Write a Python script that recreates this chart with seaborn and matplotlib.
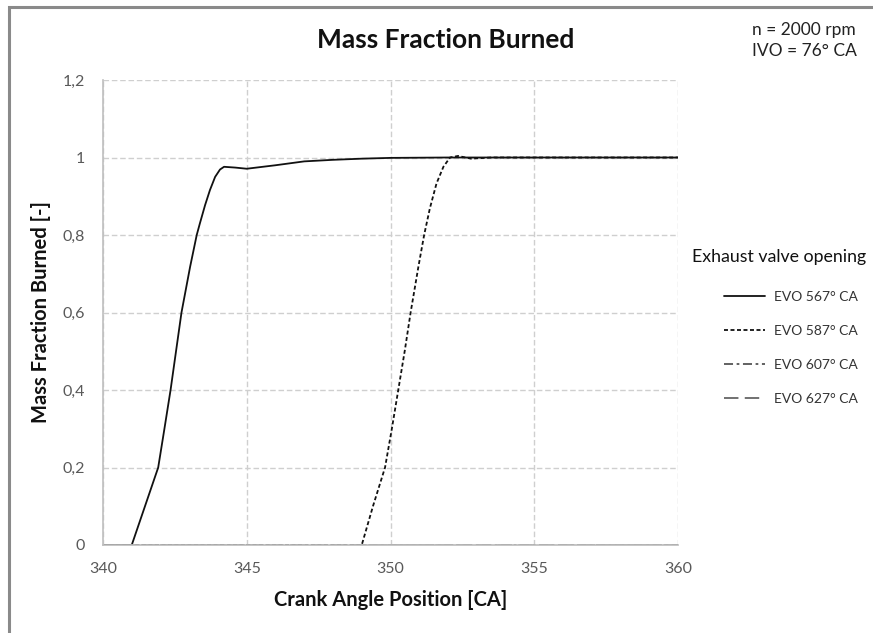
import numpy as np
import pandas as pd
import matplotlib
matplotlib.use("Agg")
import matplotlib.pyplot as plt
import matplotlib.patches as mpatches
from matplotlib.lines import Line2D
import seaborn as sns

# ---- data ----
x_evo567 = [340, 341.0, 341.46, 341.92, 342.13, 342.35, 342.73, 343.03, 343.26, 343.37, 343.55,
            343.72, 343.90, 344.07, 344.21, 344.6, 345.0, 346.0, 347.0, 348.0, 349.0,
            350.0, 352.0, 355.0, 360.0]
y_evo567 = [0, 0, 0.10, 0.20, 0.297, 0.40, 0.60, 0.718, 0.80, 0.830, 0.877,
            0.916, 0.950, 0.969, 0.976, 0.974, 0.971, 0.980, 0.990, 0.994, 0.997,
            0.999, 1.0, 1.0, 1.0]

x_evo587 = [340, 349.0, 349.39, 349.81, 350.04, 350.27, 350.5, 350.7, 350.97, 351.17,
            351.37, 351.6, 351.84, 352.07, 352.35, 352.8, 353.5, 355.0, 360.0]
y_evo587 = [0, 0, 0.10, 0.20, 0.297, 0.40, 0.503, 0.60, 0.718, 0.80,
            0.869, 0.933, 0.976, 1.0, 1.004, 0.997, 1.0, 1.0, 1.0]

x_evo607 = [340, 345, 350, 355, 360]
y_evo607 = [0, 0, 0, 0, 0]

x_evo627 = [340, 345, 350, 355, 360]
y_evo627 = [0, 0, 0, 0, 0]

series_labels = ["EVO 567° CA", "EVO 587° CA", "EVO 607° CA", "EVO 627° CA"]
x_ticks = [340, 345, 350, 355, 360]
y_ticks = [0, 0.2, 0.4, 0.6, 0.8, 1.0, 1.2]
y_tick_labels = ["0", "0,2", "0,4", "0,6", "0,8", "1", "1,2"]

# ---- styling ----
sns.set_theme(style="white")
plt.rcParams["font.family"] = ["Lato", "DejaVu Sans"]

fig = plt.figure(figsize=(8.73, 6.33), dpi=100)
ax = fig.add_axes([103/873, 1-545/633, (678-103)/873, (545-80)/633])

styles = [
    dict(color="#111111", linestyle="-", linewidth=1.3),
    dict(color="#111111", linestyle=(0, (2.2, 1.4)), linewidth=1.3),
    dict(color="#555555", linestyle=(0, (5, 2, 1.5, 2)), linewidth=1.3),
    dict(color="#666666", linestyle=(0, (8, 3.5)), linewidth=1.3),
]
data = [(x_evo627, y_evo627), (x_evo607, y_evo607), (x_evo587, y_evo587), (x_evo567, y_evo567)]
order = [3, 2, 1, 0]
for (xs, ys), i in zip(data, order):
    df = pd.DataFrame({"x": xs, "y": ys})
    sns.lineplot(data=df, x="x", y="y", ax=ax, sort=False, **styles[i])

ax.set_xlim(340, 360)
ax.set_ylim(0, 1.2)
ax.set_xticks(x_ticks)
ax.set_xticklabels([str(t) for t in x_ticks])
ax.set_yticks(y_ticks)
ax.set_yticklabels(y_tick_labels)
ax.tick_params(axis="both", labelsize=11.5, labelcolor="#595959", color="#bfbfbf",
               length=5, width=1, direction="out")
ax.tick_params(axis="x", pad=7)
ax.tick_params(axis="y", pad=8)
ax.grid(True, color="#cfcfcf", linestyle=(0, (4, 2)), linewidth=1)
for s in ["top", "right"]:
    ax.spines[s].set_visible(False)
ax.spines["left"].set_color("#bfbfbf")
ax.spines["bottom"].set_color("#bfbfbf")
ax.spines["left"].set_linewidth(1.2)

ax.set_xlabel("Crank Angle Position [CA]", fontsize=14.5, fontweight="bold", color="#111111", labelpad=10)
ax.set_ylabel("Mass Fraction Burned [-]", fontsize=14.5, fontweight="bold", color="#111111", labelpad=8)
fig.text(446/873, 1-40/633, "Mass Fraction Burned", ha="center", va="center",
         fontsize=19, fontweight="bold", color="#111111")

fig.text(752/873, 1-30/633, "n = 2000 rpm", ha="left", va="center", fontsize=12.5, color="#222222")
fig.text(752/873, 1-51/633, "IVO = 76° CA", ha="left", va="center", fontsize=12.5, color="#222222")

fig.text(692/873, 1-257/633, "Exhaust valve opening", ha="left", va="center", fontsize=12.8, color="#111111")
handles = [Line2D([], [], **styles[i]) for i in range(4)]
leg = fig.legend(handles, series_labels, loc="upper left", bbox_to_anchor=(718/873, 1-285/633),
                 frameon=False, fontsize=10, handlelength=3.0, labelspacing=1.6,
                 handletextpad=0.6, borderaxespad=0)
for t in leg.get_texts():
    t.set_color("#333333")

# outer chart border (cut off at right and bottom)
border = mpatches.Rectangle((8.5/873, -0.2), 1.3, 1.2 - 6.5/633, transform=fig.transFigure,
                            fill=False, edgecolor="#8a8a8a", linewidth=2.2)
fig.patches.append(border)

fig.savefig("out.png", dpi=100)
